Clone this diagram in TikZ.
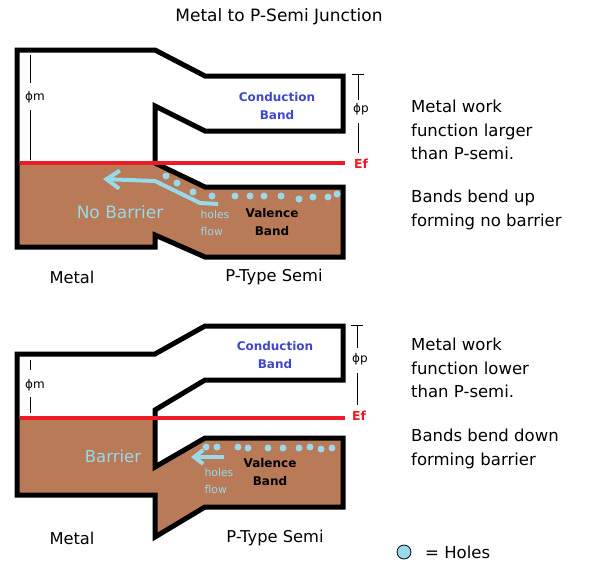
\documentclass[tikz,border=0pt]{standalone}
\usepackage{fontspec}
\setmainfont{DejaVu Sans}
\usetikzlibrary{arrows.meta}
\definecolor{paintbrown}{HTML}{B97A57}
\definecolor{paintblue}{HTML}{99D9EA}
\definecolor{paintred}{HTML}{ED1C24}
\definecolor{paintindigo}{HTML}{3F48CC}
\tikzset{
  band/.style={line width=5pt},
  fermi/.style={paintred,line width=4.5pt},
  flow/.style={paintblue,line width=4pt},
  hole/.style={circle,fill=paintblue,inner sep=0pt,minimum size=7pt},
  big/.style={font=\fontsize{16.5}{23.5}\selectfont,align=left,anchor=west,inner sep=0pt},
  side/.style={font=\fontsize{16.3}{18}\selectfont,inner sep=0pt},
  bandname/.style={font=\fontsize{12}{18.5}\selectfont\bfseries,align=center,inner sep=0pt},
  note/.style={paintblue,font=\fontsize{10.8}{17}\selectfont,align=left,inner sep=0pt},
  phi/.style={font=\fontsize{12}{12}\selectfont,inner sep=0pt},
  eflabel/.style={paintred,font=\fontsize{12.5}{13}\selectfont\bfseries,inner sep=0pt}
}
\begin{document}
\begin{tikzpicture}[x=1pt,y=-1pt]
      \useasboundingbox (0,0) rectangle (594,582);

      \node[font=\fontsize{17}{18}\selectfont] (title) at (279,17) {Metal to P-Semi Junction};

      \fill[paintbrown] (17,163) -- (155,163) -- (205,187) -- (343,187) -- (343,257)
        -- (205,257) -- (155,235) -- (155,247) -- (17,247) -- cycle;
      \draw[band] (155,163) -- (155,106) -- (205,131) -- (343,131) -- (343,76) -- (205,76)
        -- (155,50) -- (17,50) -- (17,247) -- (155,247) -- (155,235) -- (205,257)
        -- (343,257) -- (343,187) -- (205,187) -- cycle;
      \draw[fermi] (20,163) -- (345,163);

      \fill[paintbrown] (17,418) -- (155,418) -- (155,467) -- (205,438) -- (343,438) -- (343,507)
        -- (205,507) -- (155,537) -- (155,495) -- (17,495) -- cycle;
      \draw[band] (155,467) -- (155,410) -- (205,380) -- (343,380) -- (343,326) -- (205,326)
        -- (155,354) -- (17,354) -- (17,495) -- (155,495) -- (155,537) -- (205,507)
        -- (343,507) -- (343,438) -- (205,438) -- cycle;
      \draw[fermi] (20,418) -- (345,418);

      \begin{scope}[every node/.style={hole}]
        \node (h1)  at (166,176) {};
        \node (h2)  at (177,183) {};
        \node (h3)  at (193,192) {};
        \node (h4)  at (212,196) {};
        \node (h5)  at (235,196) {};
        \node (h6)  at (250,196) {};
        \node (h7)  at (264,196) {};
        \node (h8)  at (281,196) {};
        \node (h9)  at (299,199) {};
        \node (h10) at (313,197) {};
        \node (h11) at (328,197) {};
        \node (h12) at (337,194) {};
        \node (h13) at (206,447) {};
        \node (h14) at (217,447) {};
        \node (h15) at (238,447) {};
        \node (h16) at (248,448) {};
        \node (h17) at (268,448) {};
        \node (h18) at (283,448) {};
        \node (h19) at (299,448) {};
        \node (h20) at (310,447) {};
        \node (h21) at (321,449) {};
        \node (h22) at (332,448) {};
      \end{scope}

      \draw[flow,-{Straight Barb[length=13pt,width=18pt]}] (218,204) -- (200,203) -- (155,181) -- (103,179);
      \draw[flow,-{Straight Barb[length=9pt,width=14pt]}] (224,457) -- (191,457);

      \begin{scope}[every node/.style={phi}]
        \node (phim1) at (35,97) {ϕm};
        \node (phip1) at (361,109) {ϕp};
        \node (phim2) at (35,385) {ϕm};
        \node (phip2) at (360,359) {ϕp};
      \end{scope}
      \draw (30,55) -- (30,83) (30,110) -- (30,160);
      \draw (352,74) -- (364,74) (358,74) -- (358,100) (358,123) -- (358,153);
      \draw (30,360) -- (30,370) (30,397) -- (30,413);
      \draw (351,325) -- (363,325) (357,325) -- (357,348) (357,373) -- (357,405);

      \node[eflabel] (ef1) at (361,164) {Ef};
      \node[eflabel] (ef2) at (359,416) {Ef};

      \begin{scope}[every node/.style={bandname}]
        \node[paintindigo] (cb1) at (277,106) {Conduction\\Band};
        \node (vb1) at (272,222) {Valence\\Band};
        \node[paintindigo] (cb2) at (275,355) {Conduction\\Band};
        \node (vb2) at (270,472) {Valence\\Band};
      \end{scope}

      \node[paintblue,font=\fontsize{17}{18}\selectfont] (nobar) at (120,212) {No Barrier};
      \node[paintblue,font=\fontsize{16.5}{18}\selectfont] (bar) at (113,456) {Barrier};
      \node[note] (flow1) at (215,223) {holes\\flow};
      \node[note] (flow2) at (219,481) {holes\\flow};

      \begin{scope}[every node/.style={side}]
        \node (metal1) at (72,277) {Metal};
        \node (semi1)  at (274,277) {P-Type Semi};
        \node (metal2) at (72,538) {Metal};
        \node (semi2)  at (275,538) {P-Type Semi};
      \end{scope}

      \node[big] (why1) at (411,130) {Metal work\\function larger\\than P-semi.};
      \node[big] (bend1) at (411,210) {Bands bend up\\forming no barrier};
      \node[big] (why2) at (411,368) {Metal work\\function lower\\than P-semi.};
      \node[big] (bend2) at (411,449) {Bands bend down\\forming barrier};

      \node[hole,draw,minimum size=14pt,line width=0.8pt] (key) at (404,552) {};
      \node[big] (keytext) at (425,552) {= Holes};

    \end{tikzpicture}
\end{document}
